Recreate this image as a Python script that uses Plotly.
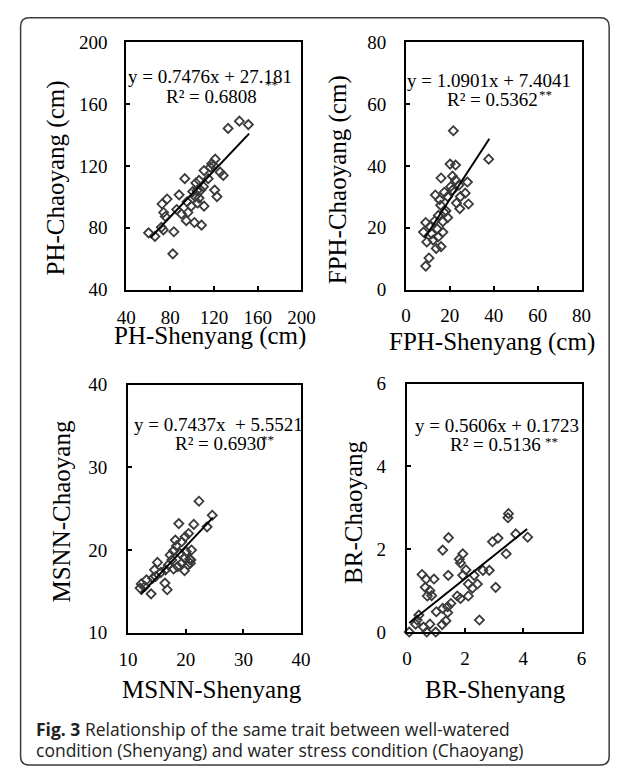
import plotly.graph_objects as go

W, H = 627, 778

# ---------------- data ----------------
ph_x = [60.3, 66.1, 72.0, 73.8, 72.6, 77.2, 74.1, 75.6, 83.4, 82.5, 86.0, 88.2, 93.4, 90.4,
        94.8, 96.3, 99.3, 102.2, 108.7, 103.5, 106.4, 100.7, 102.8, 106.4, 105.0, 111.0,
        108.0, 111.0, 114.8, 116.8, 121.2, 119.8, 120.7, 122.8, 125.7, 128.6, 133.0,
        143.3, 151.5, 95.5, 104.5, 110.5, 118.0]
ph_y = [76.7, 74.4, 80.3, 78.6, 95.4, 98.6, 89.9, 87.3, 77.4, 63.1, 91.8, 101.3, 111.8, 88.9,
        84.6, 89.9, 94.0, 83.4, 81.7, 109.0, 110.7, 103.4, 100.2, 99.2, 96.0, 94.0,
        104.4, 117.0, 111.8, 119.2, 124.4, 120.2, 104.4, 100.2, 116.0, 113.9, 144.3,
        149.0, 146.8, 96.8, 104.0, 106.6, 121.5]

fph_x = [21.6, 37.7, 20.1, 22.6, 16.0, 21.2, 22.6, 28.0, 20.4, 24.1, 21.2, 17.5, 13.4, 27.0,
         24.8, 15.3, 19.0, 23.0, 28.5, 24.5, 15.8, 17.5, 19.0, 16.8, 9.0, 13.1, 14.3, 11.0,
         8.0, 11.7, 14.6, 9.5, 12.4, 16.8, 16.0, 13.8, 10.5, 9.0, 18.2, 14.8]
fph_y = [51.4, 42.2, 40.6, 40.3, 36.1, 36.7, 35.4, 34.8, 33.3, 33.8, 32.2, 31.5, 30.6, 31.2,
         30.1, 29.1, 30.1, 28.0, 27.7, 26.2, 27.3, 24.9, 23.3, 22.0, 21.7, 22.2, 19.6, 20.4,
         18.6, 18.1, 17.0, 15.4, 16.0, 18.6, 13.9, 13.3, 10.2, 7.6, 25.5, 24.0]

msnn_x = [22.3, 24.6, 23.7, 18.8, 21.4, 20.5, 19.9, 19.3, 18.4, 17.9, 17.3, 19.0, 20.1, 20.9,
          19.8, 20.4, 19.3, 18.6, 17.9, 17.0, 16.5, 15.7, 15.1, 14.6, 14.8, 14.3, 13.2, 12.3,
          12.9, 12.1, 14.0, 16.4, 16.8, 17.6, 18.2, 19.8, 20.7, 20.8, 21.0]
msnn_y = [25.9, 24.2, 22.8, 23.2, 23.1, 22.0, 21.6, 21.0, 20.5, 19.9, 19.4, 19.6, 19.8, 18.8,
          19.0, 18.2, 18.4, 18.0, 17.7, 18.2, 17.6, 17.3, 18.5, 17.6, 16.8, 16.6, 16.4, 15.9,
          15.6, 15.4, 14.7, 16.0, 15.2, 18.8, 21.2, 17.5, 18.9, 18.4, 20.0]

br_x = [3.49, 3.47, 3.74, 4.15, 2.94, 3.13, 3.41, 1.43, 1.23, 1.92, 1.80, 1.84, 2.03, 2.61,
        2.83, 1.42, 1.92, 2.31, 0.52, 0.66, 0.93, 0.63, 0.79, 0.70, 0.85, 2.11, 2.25, 2.42,
        3.05, 2.11, 1.84, 1.73, 1.51, 1.40, 1.01, 1.23, 1.40, 0.41, 0.35, 0.30, 1.21, 1.34,
        2.49, 0.57, 0.79, 0.68, 0.99, 0.08]
br_y = [2.86, 2.76, 2.37, 2.29, 2.18, 2.27, 1.89, 2.28, 1.98, 1.89, 1.76, 1.67, 1.50, 1.49,
        1.49, 1.37, 1.37, 1.37, 1.39, 1.28, 1.28, 1.08, 1.00, 0.87, 0.88, 1.16, 1.06, 1.16,
        1.08, 0.87, 0.81, 0.87, 0.69, 0.61, 0.49, 0.57, 0.47, 0.41, 0.29, 0.19, 0.18, 0.27,
        0.29, 0.12, 0.19, 0.00, 0.00, 0.00]

slopes = [0.7476, 1.0901, 0.7437, 0.5606]
intercepts = [27.181, 7.4041, 5.5521, 0.1723]
fit_x_min = [62.0, 8.5, 12.2, 0.08]
fit_x_max = [152.2, 38.0, 24.7, 4.13]

eq_line1 = ["y = 0.7476x + 27.181", "y = 1.0901x + 7.4041",
            "y = 0.7437x\u00a0 + 5.5521", "y = 0.5606x + 0.1723"]
eq_line2 = ["R² = 0.6808", "R² = 0.5362", "R² = 0.6930", "R² = 0.5136"]

x_titles = ["PH-Shenyang (cm)", "FPH-Shenyang (cm)", "MSNN-Shenyang", "BR-Shenyang"]
y_titles = ["PH-Chaoyang (cm)", "FPH-Chaoyang (cm)", "MSNN-Chaoyang", "BR-Chaoyang"]
axis_ranges = [[40, 200], [0, 80], [10, 40], [0, 6]]
tick_steps = [40, 20, 10, 2]

caption1 = "<b>Fig. 3</b> Relationship of the same trait between well-watered"
caption2 = "condition (Shenyang) and water stress condition (Chaoyang)"

# ---------------- layout helpers ----------------
def px(x):
    return x / W

def py(y):
    return 1 - y / H

boxes = [(121, 303, 33.3, 287.3), (411.7, 594.3, 33.3, 287.3),
         (122.7, 302.7, 385, 640), (412.7, 594.3, 384, 639.3)]
xstand = [10, 8, 8, 8]
ystand = [13, 14, 15, 15]

SERIF = "Liberation Serif"
fig = go.Figure()
series = [(ph_x, ph_y), (fph_x, fph_y), (msnn_x, msnn_y), (br_x, br_y)]

layout = dict(width=W, height=H, autosize=False,
              margin=dict(l=0, r=0, t=0, b=0, pad=0),
              paper_bgcolor="white", plot_bgcolor="white", showlegend=False,
              font=dict(family=SERIF, color="black"))

for i, (xs, ys) in enumerate(series):
    n = i + 1
    xa = "x" if n == 1 else f"x{n}"
    ya = "y" if n == 1 else f"y{n}"
    fig.add_trace(go.Scatter(x=xs, y=ys, mode="markers", xaxis=xa, yaxis=ya,
                             marker=dict(symbol="diamond-open", size=7, color="#3a3a3a",
                                         line=dict(width=1.8, color="#3a3a3a")),
                             cliponaxis=False))
    lx = [fit_x_min[i], fit_x_max[i]]
    ly = [slopes[i] * v + intercepts[i] for v in lx]
    fig.add_trace(go.Scatter(x=lx, y=ly, mode="lines", xaxis=xa, yaxis=ya,
                             line=dict(color="black", width=2)))
    x0, x1, y0, y1 = boxes[i]
    r = axis_ranges[i]
    common = dict(range=r, dtick=tick_steps[i], tick0=r[0], showgrid=False, zeroline=False,
                  showline=True, linecolor="black", linewidth=2, mirror=True,
                  ticks="inside", ticklen=4, tickwidth=1.5, tickcolor="black",
                  tickfont=dict(family=SERIF, size=19, color="black"), fixedrange=True)
    layout["xaxis" if n == 1 else f"xaxis{n}"] = dict(
        domain=[px(x0), px(x1)], anchor=ya, ticklabelstandoff=xstand[i], **common)
    layout["yaxis" if n == 1 else f"yaxis{n}"] = dict(
        domain=[py(y1), py(y0)], anchor=xa, ticklabelstandoff=ystand[i], **common)

fig.update_layout(**layout)

ann = []
def add_text(text, x, y, size, angle=0, family=SERIF, xanchor="center", color="black"):
    ann.append(dict(text=text, x=px(x), y=py(y), xref="paper", yref="paper",
                    xanchor=xanchor, yanchor="middle", showarrow=False, textangle=angle,
                    font=dict(family=family, size=size, color=color)))

xt_pos = [(208, 335), (501.7, 341), (210, 698), (505, 698)]
yt_pos = [(47.5, 172.5), (340.5, 174.5), (53.5, 515), (356.5, 516)]
eq1_pos = [(207.5, 68), (498.5, 72), (217, 425.5), (506, 427)]
eq2_pos = [(210, 89), (501.5, 92), (219, 445.5), (505, 447)]
star_pos = [(272, 77), (557, 87), (268, 441), (563, 443)]

for i in range(4):
    add_text(x_titles[i], *xt_pos[i], 25)
    add_text(y_titles[i], *yt_pos[i], 25, angle=-90)
    add_text(eq_line1[i], *eq1_pos[i], 19)
    add_text(eq_line2[i], *eq2_pos[i], 19)
    add_text("**", *star_pos[i], 13)

add_text(caption1, 25, 739, 17.5, family="Open Sans", xanchor="left", color="#222222")
add_text(caption2, 25, 761, 17.5, family="Open Sans", xanchor="left", color="#222222")
fig.update_layout(annotations=ann)

# rounded outer frame
L, R, T, B, rad = 11, 623, 8, 776, 9
rx, ry = rad / W, rad / H
path = (f"M {px(L)+rx},{py(T)} L {px(R)-rx},{py(T)} Q {px(R)},{py(T)} {px(R)},{py(T)-ry} "
        f"L {px(R)},{py(B)+ry} Q {px(R)},{py(B)} {px(R)-rx},{py(B)} "
        f"L {px(L)+rx},{py(B)} Q {px(L)},{py(B)} {px(L)},{py(B)+ry} "
        f"L {px(L)},{py(T)-ry} Q {px(L)},{py(T)} {px(L)+rx},{py(T)} Z")
fig.add_shape(type="path", path=path, xref="paper", yref="paper",
              line=dict(color="#3c3c3c", width=1.5), layer="below")

fig.write_html("out.html", config={"displayModeBar": False},
               post_script="document.body.style.margin='0';document.body.style.overflow='hidden';")
